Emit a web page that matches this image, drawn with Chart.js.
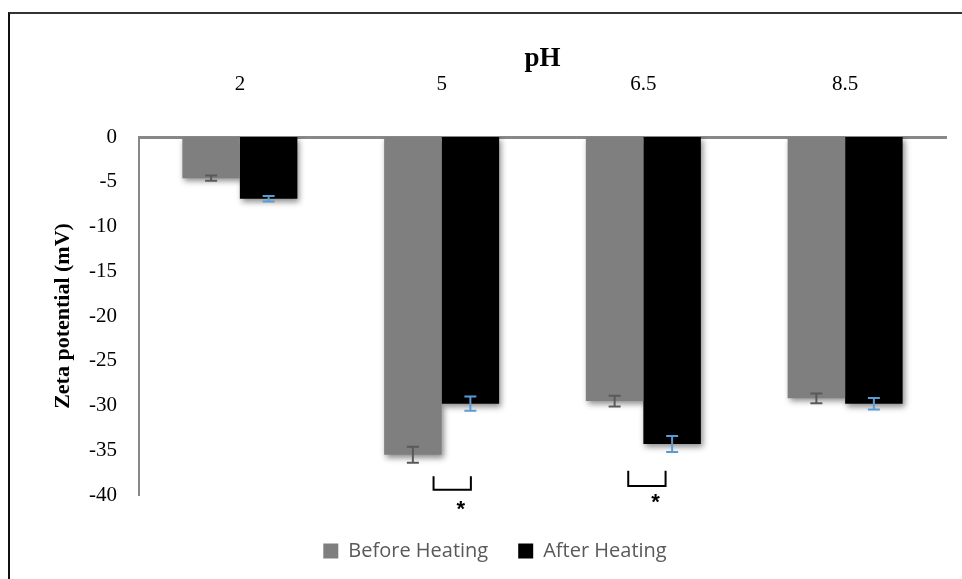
<!DOCTYPE html>
<html>
<head>
<meta charset="utf-8">
<script src="https://cdn.jsdelivr.net/npm/chart.js@4/dist/chart.umd.min.js"></script>
<style>
  html, body { margin: 0; padding: 0; background: #fff; }
  #frame {
    position: absolute; left: 8px; top: 12px; width: 954px; height: 567px;
    border-top: 2px solid #333; border-left: 2px solid #111; box-sizing: border-box;
  }
  #wrap { position: absolute; left: 0; top: 0; width: 962px; height: 579px; }
</style>
</head>
<body>
<div id="frame"></div>
<div id="wrap"><canvas id="zeta-chart" width="962" height="579"></canvas></div>
<script>
// pH values and zeta potential (mV)
const phLabels = ['2', '5', '6.5', '8.5'];
const beforeHeating = [-4.6, -35.5, -29.5, -29.2];
const afterHeating = [-6.9, -29.8, -34.3, -29.8];
const beforeErr = [0.3, 0.9, 0.6, 0.55];
const afterErr = [0.3, 0.8, 0.9, 0.65];
const yTicks = [0, -5, -10, -15, -20, -25, -30, -35, -40];

// significance brackets (category index, x offsets in categories, y in mV)
const brackets = [
    { cat: 1, from: -0.04, to: 0.145, top: -37.9, bottom: -39.4, star: 0.095, starY: -41.2 },
    { cat: 2, from: -0.075, to: 0.11, top: -37.3, bottom: -39.0, star: 0.06, starY: -40.4 }
];

const barShadow = {
    id: 'barShadow',
    beforeDatasetsDraw(chart) {
        const ctx = chart.ctx;
        ctx.save();
        ctx.shadowColor = 'rgba(0,0,0,0.45)';
        ctx.shadowBlur = 6;
        ctx.shadowOffsetX = 2;
        ctx.shadowOffsetY = 3;
    },
    afterDatasetsDraw(chart) {
        chart.ctx.restore();
    }
};

// nudge the legend a bit to the right, like the original
const legendShift = {
    id: 'legendShift',
    afterLayout(chart) {
        chart.legend.left += 22;
        chart.legend.right += 22;
    }
};

const errorBars = {
    id: 'errorBars',
    afterDatasetsDraw(chart) {
        const ctx = chart.ctx;
        const y = chart.scales.y;
        const errs = [beforeErr, afterErr];
        const colors = ['#595959', '#5b9bd5'];
        ctx.save();
        chart.data.datasets.forEach((ds, di) => {
            const meta = chart.getDatasetMeta(di);
            meta.data.forEach((bar, i) => {
                const v = ds.data[i];
                const e = errs[di][i];
                const x = bar.x;
                const y1 = y.getPixelForValue(v + e);
                const y2 = y.getPixelForValue(v - e);
                ctx.strokeStyle = colors[di];
                ctx.lineWidth = 2;
                ctx.beginPath();
                ctx.moveTo(x, y1); ctx.lineTo(x, y2);
                ctx.moveTo(x - 6, y1); ctx.lineTo(x + 6, y1);
                ctx.moveTo(x - 6, y2); ctx.lineTo(x + 6, y2);
                ctx.stroke();
            });
        });

        // brackets with asterisks
        const xs = chart.scales.x;
        ctx.strokeStyle = '#000';
        ctx.fillStyle = '#000';
        ctx.lineWidth = 2;
        ctx.font = 'bold 22px "Liberation Sans", Arial, sans-serif';
        ctx.textAlign = 'center';
        ctx.textBaseline = 'middle';
        brackets.forEach(b => {
            const xa = xs.getPixelForValue(b.cat + b.from);
            const xb = xs.getPixelForValue(b.cat + b.to);
            const yt = y.getPixelForValue(b.top);
            const yb = y.getPixelForValue(b.bottom);
            ctx.beginPath();
            ctx.moveTo(xa, yt); ctx.lineTo(xa, yb); ctx.lineTo(xb, yb); ctx.lineTo(xb, yt);
            ctx.stroke();
            ctx.fillText('*', xs.getPixelForValue(b.cat + b.star), y.getPixelForValue(b.starY) + 4);
        });
        ctx.restore();
    }
};

const ctx = document.getElementById('zeta-chart').getContext('2d');
new Chart(ctx, {
    type: 'bar',
    data: {
        labels: phLabels,
        datasets: [{
            label: 'Before Heating',
            data: beforeHeating,
            backgroundColor: '#7f7f7f'
        }, {
            label: 'After Heating',
            data: afterHeating,
            backgroundColor: '#000000'
        }]
    },
    options: {
        responsive: false,
        animation: false,
        layout: { padding: { left: 0, top: 43, right: 16, bottom: 8 } },
        categoryPercentage: 0.57,
        barPercentage: 1.0,
        scales: {
            x: {
                position: 'top',
                grid: { display: false, drawTicks: false },
                border: { color: '#888888', width: 3 },
                ticks: {
                    color: '#000',
                    padding: 40,
                    font: { family: '"Liberation Serif", "Times New Roman", serif', size: 21 }
                },
                title: {
                    display: true,
                    text: 'pH',
                    color: '#000',
                    padding: { top: 0, bottom: 2 },
                    font: { family: '"Liberation Serif", "Times New Roman", serif', size: 27, weight: 'bold' }
                },
                afterFit(scale) { scale.height = 94; }
            },
            y: {
                min: -40,
                max: 0,
                afterBuildTicks(scale) { scale.ticks = yTicks.map(v => ({ value: v })); },
                grid: { display: false, drawTicks: false },
                border: { color: '#888888', width: 2 },
                ticks: {
                    color: '#000',
                    padding: 22,
                    font: { family: '"Liberation Serif", "Times New Roman", serif', size: 21 }
                },
                title: {
                    display: true,
                    text: 'Zeta potential (mV)',
                    color: '#000',
                    padding: { top: 50, bottom: 4 },
                    font: { family: '"Liberation Serif", "Times New Roman", serif', size: 22, weight: 'bold' }
                },
                afterFit(scale) { scale.width = 139; }
            }
        },
        plugins: {
            legend: {
                position: 'bottom',
                title: {
                    display: true,
                    text: ' ',
                    padding: { top: 0, bottom: 4 },
                    font: { size: 10 }
                },
                labels: {
                    color: '#595959',
                    boxWidth: 15,
                    boxHeight: 15,
                    padding: 30,
                    font: { family: '"Open Sans", "Liberation Sans", sans-serif', size: 20 }
                }
            },
            tooltip: { enabled: false }
        }
    },
    plugins: [barShadow, errorBars, legendShift]
});
</script>
</body>
</html>
